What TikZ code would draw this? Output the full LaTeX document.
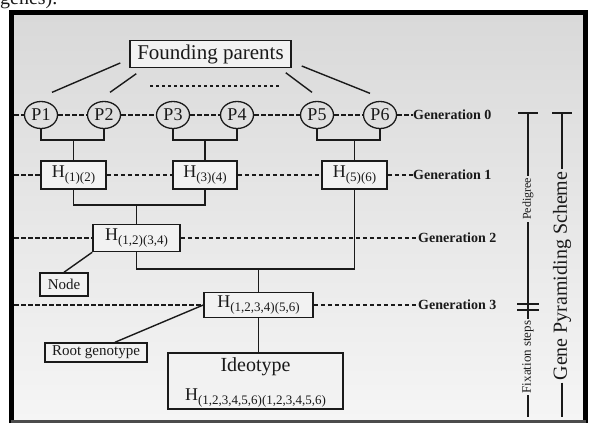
\documentclass[tikz,border=0pt]{standalone}
\usepackage{fontspec}
\setmainfont{Liberation Serif}
\usetikzlibrary{shapes.geometric,calc}
\definecolor{bgtop}{HTML}{D9D9D9}
\definecolor{bgbot}{HTML}{F5F5F5}
\definecolor{boxfill}{HTML}{F2F2F2}
\definecolor{ink}{HTML}{1A1A1A}
\newcommand{\Hsub}[1]{{\fontsize{18}{18}\selectfont H}\raisebox{-4pt}{\fontsize{13}{13}\selectfont #1}}
\begin{document}
\begin{tikzpicture}[x=1pt,y=-1pt,
 every node/.style={text=ink},
 box/.style={draw=ink, fill=boxfill, line width=1.5pt, inner sep=0pt},
 parent/.style={draw=ink, ellipse, line width=1.3pt, minimum width=33pt, minimum height=27pt, inner sep=0pt, font=\fontsize{18}{18}\selectfont},
 conn/.style={draw=ink, line width=1.4pt},
 genline/.style={draw=ink, line width=1.8pt, dash pattern=on 4.5pt off 2.5pt},
 dotline/.style={draw=ink, line width=2pt, dash pattern=on 2.5pt off 3.5pt},
 genlab/.style={anchor=west, inner sep=0pt, font=\fontsize{14}{14}\selectfont\bfseries},
 side/.style={rotate=90, inner sep=0pt, inner xsep=2pt, font=\fontsize{13}{13}\selectfont}
]
\useasboundingbox (0,0) rectangle (594,423);
\shade[top color=bgtop, bottom color=bgbot] (13,14) rectangle (583,421);
\node[anchor=base west, inner sep=0pt, font=\fontsize{20}{20}\selectfont] (gtxt) at (0,5) {genes).};
% frame
\draw[black, line width=5pt] (11,423) -- (11,12.5) -- (585.5,12.5) -- (585.5,423);
\draw[black!70, line width=3pt] (11,421.5) -- (585.5,421.5);

% founding parents
\node[box, minimum width=161pt, minimum height=27pt, font=\fontsize{21}{21}\selectfont] (fp) at (210.5,54) {Founding parents};
\node[parent] (p1) at (41,115) {P1};
\node[parent] (p2) at (104,115) {P2};
\node[parent] (p3) at (173,115) {P3};
\node[parent] (p4) at (237,115) {P4};
\node[parent] (p5) at (317,115) {P5};
\node[parent] (p6) at (380,115) {P6};
\coordinate (d1) at (150,86);
\coordinate (d2) at (280,86);
\draw[dotline] (d1) -- (d2);
\draw[conn] ($(fp.west)+(-9,9)$) -- ($(p1.north)+(11,-8.5)$);
\draw[conn] ($(fp.south west)+(7,5.5)$) -- ($(p2.north)+(6,-8.5)$);
\draw[conn] ($(fp.south east)+(-6,4.5)$) -- ($(p5.north)+(-5,-8.5)$);
\draw[conn] ($(fp.east)+(10,12)$) -- ($(p6.north)+(-10,-7.5)$);

% hybrids
\node[box, minimum width=65pt, minimum height=28pt] (h12) at (73.5,175) {\Hsub{(1)(2)}};
\node[box, minimum width=64pt, minimum height=28pt] (h34) at (205,175) {\Hsub{(3)(4)}};
\node[box, minimum width=65pt, minimum height=28pt] (h56) at (354.5,175) {\Hsub{(5)(6)}};
\node[box, minimum width=87pt, minimum height=27pt] (h1234) at (136.5,238) {\Hsub{(1,2)(3,4)}};
\node[box, minimum width=109pt, minimum height=25pt] (hroot) at (258.5,305) {\Hsub{(1,2,3,4)(5,6)}};
\node[box, minimum width=175pt, minimum height=56pt] (ideo) at (255.5,381) {};
\node[anchor=base, inner sep=0pt, font=\fontsize{20}{20}\selectfont] (ideot) at (255.5,371) {Ideotype};
\node[anchor=base, inner sep=0pt] (ideoh) at (255.5,400) {\Hsub{(1,2,3,4,5,6)(1,2,3,4,5,6)}};

\node[box, minimum width=48pt, minimum height=23pt, font=\fontsize{15}{15}\selectfont] (nodeb) at (64,284.5) {Node};
\node[box, minimum width=102pt, minimum height=19pt, font=\fontsize{15}{15}\selectfont] (rootb) at (96,352.5) {Root genotype};

% tree connectors
\coordinate (j12) at (73.5,140);
\coordinate (j34) at (205,140);
\coordinate (j56) at (354.5,140);
\draw[conn] (p1.south) |- (j12) -| (p2.south);
\draw[conn] (j12) -- (h12.north);
\draw[conn] (p3.south) |- (j34) -| (p4.south);
\draw[conn] (j34) -- (h34.north);
\draw[conn] (p5.south) |- (j56) -| (p6.south);
\draw[conn] (j56) -- (h56.north);
\coordinate (ja) at (136.5,205);
\draw[conn] (h12.south) |- (ja) -| (h34.south);
\draw[conn] (ja) -- (h1234.north);
\coordinate (jb) at (258.5,269);
\draw[conn] (h1234.south) |- (jb) -| (h56.south);
\draw[conn] (jb) -- (hroot.north);
\draw[conn] (hroot.south) -- (hroot.south |- ideo.north);
\draw[conn] (nodeb.north) -- (h1234.south west);
\draw[conn] ($(rootb.north)+(19,0)$) -- (hroot.west);

% generation labels and dashed lines
\node[genlab] (g0) at (413,115) {Generation 0};
\node[genlab] (g1) at (413,175) {Generation 1};
\node[genlab] (g2) at (418,238) {Generation 2};
\node[genlab] (g3) at (418,305) {Generation 3};
\coordinate (l0) at (14,115);
\coordinate (l1) at (14,175);
\coordinate (l2) at (14,238);
\coordinate (l3) at (14,305);
\draw[genline] (l0) -- (p1.west);
\draw[genline] (p1.east) -- (p2.west);
\draw[genline] (p2.east) -- (p3.west);
\draw[genline] (p3.east) -- (p4.west);
\draw[genline] (p4.east) -- (p5.west);
\draw[genline] (p5.east) -- (p6.west);
\draw[genline] (p6.east) -- (g0.west);
\draw[genline] (l1) -- (h12.west);
\draw[genline] (h12.east) -- (h34.west);
\draw[genline] (h34.east) -- (h56.west);
\draw[genline] (h56.east) -- (g1.west);
\draw[genline] (l2) -- (h1234.west);
\draw[genline] (h1234.east) -- (g2.west);
\draw[genline] (l3) -- (hroot.west);
\draw[genline] (hroot.east) -- (g3.west);

% side brackets
\node[side, font=\fontsize{12}{12}\selectfont] (ped) at (528,199) {Pedigree};
\node[side] (fix) at (528,357) {Fixation steps};
\node[side, font=\fontsize{20}{20}\selectfont] (gps) at (562,276) {Gene Pyramiding Scheme};
\coordinate (pt) at (528,113);
\coordinate (ptl) at (518,113);
\coordinate (ptr) at (538,113);
\coordinate (pb1) at (528,304);
\coordinate (pb1l) at (517,304);
\coordinate (pb1r) at (539,304);
\coordinate (pb2) at (528,310);
\coordinate (pb2l) at (517,310);
\coordinate (pb2r) at (539,310);
\coordinate (pend) at (528,417);
\draw[conn] (ptl) -- (ptr);
\draw[conn] (pt) -- (ped.east);
\draw[conn] (ped.west) -- (pb1);
\draw[conn] (pb1l) -- (pb1r);
\draw[conn] (pb2l) -- (pb2r);
\draw[conn] (pb1) -- (pb2);
\draw[conn] (pb2) -- (fix.east);
\draw[conn] (fix.west) -- (pend);
\coordinate (gt) at (562,113);
\coordinate (gtl) at (552,113);
\coordinate (gtr) at (572,113);
\coordinate (gend) at (562,417);
\draw[conn] (gtl) -- (gtr);
\draw[conn] (gt) -- (gps.east);
\draw[conn] (gps.west) -- (gend);
\end{tikzpicture}
\end{document}
